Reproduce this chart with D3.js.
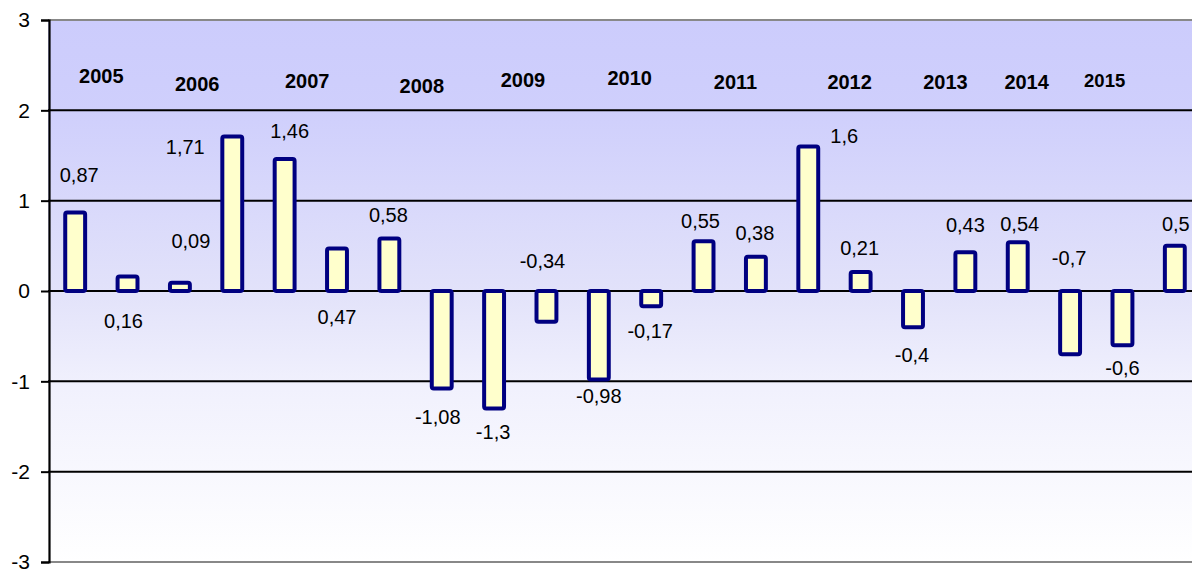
<!DOCTYPE html>
<html><head><meta charset="utf-8">
<script src="https://cdn.jsdelivr.net/npm/d3@7"></script>
<style>html,body{margin:0;padding:0;background:#fff;overflow:hidden}</style>
</head><body>
<svg id="c" width="1192" height="571"></svg>
<script>
// ---- data ----
const values = [0.87,0.16,0.09,1.71,1.46,0.47,0.58,-1.08,-1.3,-0.34,-0.98,-0.17,0.55,0.38,1.6,0.21,-0.4,0.43,0.54,-0.7,-0.6,0.5];
const valueLabels = ["0,87","0,16","0,09","1,71","1,46","0,47","0,58","-1,08","-1,3","-0,34","-0,98","-0,17","0,55","0,38","1,6","0,21","-0,4","0,43","0,54","-0,7","-0,6","0,5"];
const years = ["2005","2006","2007","2008","2009","2010","2011","2012","2013","2014","2015"];
// year label anchor: fractional bar index and value level
const yearPosIndex = [0.5,2.33,4.43,6.62,8.55,10.59,12.61,14.79,16.62,18.17,19.66];
const yearPosLevel = [2.30,2.21,2.25,2.19,2.26,2.28,2.24,2.24,2.24,2.24,2.26];
const yTicks = [-3,-2,-1,0,1,2,3];
const yTickLabels = ["-3","-2","-1","0","1","2","3"];
// label offsets (px) relative to bar end
const labelDx = [4,-4,11,-47,5,0,-1,-4,-1,-4,0,-1,-3,-1,36,-1,-1,0,2,-1,0,1];
const labelDy = [-30,51,-35,17,-21,75,-17,35,31,-54,23,32,-13,-17,-3,-17,35,-20,-11,-89,30,-15];

const svg = d3.select("#c");
const mLeft = 48, mTop = 20, mBottom = 562, mRight = 1201;
const x = d3.scaleBand().domain(d3.range(values.length)).range([mLeft+1, mRight]).paddingInner(0.62).paddingOuter(0.31);
const xc = i => x(i) + x.bandwidth()/2;
const step = x.step();
const y = d3.scaleLinear().domain([-3,3]).range([mBottom, mTop]);

const defs = svg.append("defs");
const g = defs.append("linearGradient").attr("id","bg").attr("x1",0).attr("y1",0).attr("x2",0).attr("y2",1);
[[0,"#ccccfc"],[0.17,"#cfcffc"],[0.5,"#e2e2fa"],[0.68,"#f1f1fd"],[1,"#ffffff"]].forEach(s=>g.append("stop").attr("offset",s[0]).attr("stop-color",s[1]));

svg.append("rect").attr("x",mLeft).attr("y",y(3)).attr("width",1192-mLeft).attr("height",y(-3)-y(3)).attr("fill","url(#bg)");

// gridlines
svg.append("g").selectAll("line").data(yTicks.filter(t=>t>-3&&t<3)).join("line")
  .attr("x1",mLeft).attr("x2",1192).attr("y1",d=>y(d)).attr("y2",d=>y(d))
  .attr("stroke","#000").attr("stroke-width",2);
// top/bottom border
svg.append("line").attr("x1",mLeft).attr("x2",1192).attr("y1",y(3)).attr("y2",y(3)).attr("stroke","#888").attr("stroke-width",2.2);
svg.append("line").attr("x1",mLeft).attr("x2",1192).attr("y1",y(-3)).attr("y2",y(-3)).attr("stroke","#888").attr("stroke-width",2.2);

// y axis
const ax = svg.append("g").attr("transform",`translate(${mLeft+1},0)`)
  .call(d3.axisLeft(y).tickValues(yTicks).tickSize(8).tickPadding(11).tickFormat((d,i)=>yTickLabels[i]));
ax.select(".domain").attr("stroke","#000").attr("stroke-width",2.2);
ax.selectAll(".tick line").attr("stroke","#000").attr("stroke-width",2);
ax.selectAll(".tick text").attr("font-family","Arial, 'Liberation Sans', sans-serif").attr("font-size",21).attr("fill","#000");

// bars
svg.append("g").selectAll("rect").data(values).join("rect")
  .attr("x",(d,i)=>x(i)).attr("width",x.bandwidth())
  .attr("y",d=>y(Math.max(0,d))).attr("height",d=>Math.abs(y(d)-y(0)))
  .attr("rx",2).attr("fill","#ffffcc").attr("stroke","#000080").attr("stroke-width",4);

// value labels
svg.append("g").selectAll("text").data(values).join("text")
  .attr("x",(d,i)=>xc(i)+labelDx[i]).attr("y",(d,i)=>y(d)+labelDy[i])
  .attr("text-anchor","middle").attr("font-family","Arial, 'Liberation Sans', sans-serif")
  .attr("font-size",20).attr("fill","#000").text((d,i)=>valueLabels[i]);

// year labels
const x0 = xc(0);
svg.append("g").selectAll("text").data(years).join("text")
  .attr("x",(d,i)=>x0 + yearPosIndex[i]*step).attr("y",(d,i)=>y(yearPosLevel[i]))
  .attr("text-anchor","middle").attr("font-family","Arial, 'Liberation Sans', sans-serif")
  .attr("font-weight","bold").attr("font-size",(d,i)=>i===10?18.5:20).attr("fill","#000").text(d=>d);
</script>
</body></html>
